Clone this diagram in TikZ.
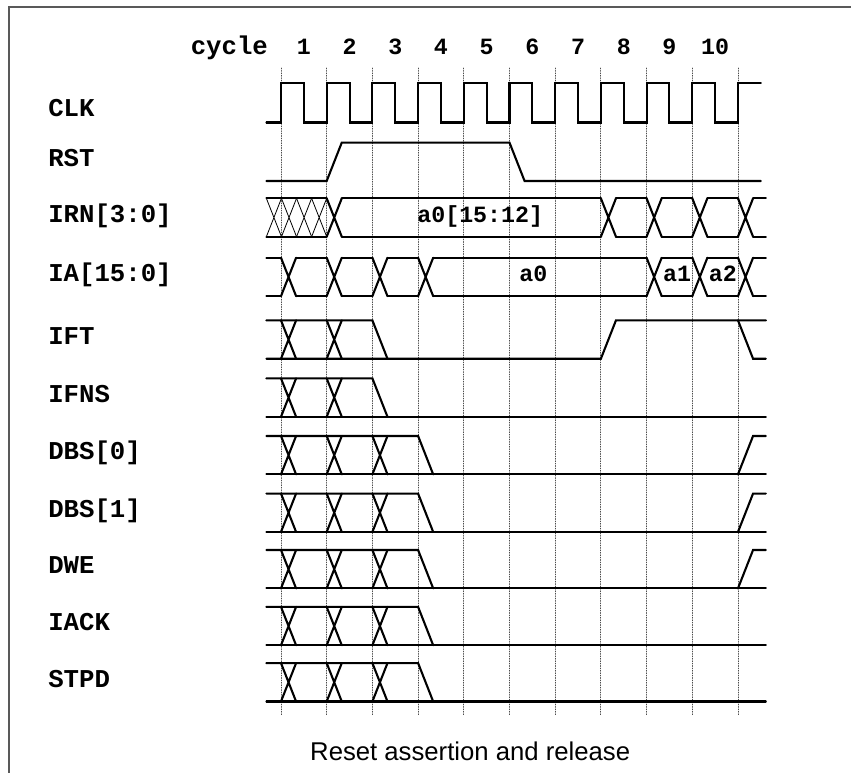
\documentclass[tikz,border=0pt]{standalone}
\usepackage{fontspec}
\setmainfont{Liberation Sans}
\newfontfamily\monofett{Liberation Mono}
\usetikzlibrary{positioning}

\begin{document}
\begin{tikzpicture}[x=1cm, y=1cm, line cap=round,
			sig/.style={line width=1.3pt},   %Signalverlauf
			gitter/.style={black!70, line width=0.5pt, dash pattern=on 0.5pt off 1pt},
			schraff/.style={line width=0.5pt},
			signame/.style={anchor=west, inner sep=0pt, text height=0.6em, text depth=0pt,
				font=\monofett\bfseries\fontsize{16}{19}\selectfont},
			wert/.style={inner sep=0pt, text height=0.6em, text depth=0pt,
				font=\monofett\bfseries\fontsize{14.5}{17}\selectfont}]
			%Bildbereich und Rahmen
			\useasboundingbox (-6.149,-16.915) rectangle (12.473,0);
			\draw[black!65, line width=1pt] (-5.95,-16.915) -- (-5.95,-0.147) -- (12.473,-0.147);
			%Taktraster
			\foreach \k in {0,...,10} \draw[gitter] (\k,-1.49) -- (\k,-15.65);
			%Zyklen beschriften
			\foreach \i in {1,...,10} \node[wert] (nr\i) at (\i-0.5,-1.09) {\i};
			\node[signame, left=0.62cm of nr1] (zyklus) {cycle};
			%Signalnamen
			\node[signame] (clk) at (-5.1,-2.44) {CLK};
			\node[signame] (rst) at (-5.1,-3.54) {RST};
			\node[signame] (irn) at (-5.1,-4.76) {IRN[3:0]};
			\node[signame] (ia) at (-5.1,-6.06) {IA[15:0]};
			\node[signame] (ift) at (-5.1,-7.43) {IFT};
			\node[signame] (ifns) at (-5.1,-8.70) {IFNS};
			\node[signame] (dbsa) at (-5.1,-9.96) {DBS[0]};
			\node[signame] (dbsb) at (-5.1,-11.22) {DBS[1]};
			\node[signame] (dwe) at (-5.1,-12.455) {DWE};
			\node[signame] (iack) at (-5.1,-13.70) {IACK};
			\node[signame] (stpd) at (-5.1,-14.93) {STPD};
			%CLK
			\begin{scope}[yshift=-1.82cm]
				\draw[sig] (-0.32,-0.86) foreach \k in {0,...,9} { -- (\k,-0.86) -- (\k,0) -- (\k+0.5,0) -- (\k+0.5,-0.86) } -- (10,-0.86) -- (10,0) -- (10.5,0);
			\end{scope}
			%RST
			\begin{scope}[yshift=-3.12cm]
				\draw[sig] (-0.32,-0.84) -- (1,-0.84) -- (1.33,0) -- (5,0) -- (5.33,-0.84) -- (10.5,-0.84);
			\end{scope}
			%IRN[3:0]
			\begin{scope}[yshift=-4.34cm]
				\draw[sig] (-0.32,0) -- (1,0) (-0.32,-0.84) -- (1,-0.84);
				\foreach \s in {-0.32,0.01,0.34,0.67} \draw[schraff] (\s,0) -- (\s+0.33,-0.84) (\s,-0.84) -- (\s+0.33,0);
				\foreach \a/\e in {1.33/7,7.33/8,8.33/9,9.33/10,10.33/10.61} \draw[sig] (\a,0) -- (\e,0) (\a,-0.84) -- (\e,-0.84);
				\foreach \k in {1,7,8,9,10} \draw[sig] (\k,0) -- (\k+0.33,-0.84) (\k,-0.84) -- (\k+0.33,0);
				\node[wert] (adr) at (4.36,-0.42) {a0[15:12]};
			\end{scope}
			%IA[15:0]
			\begin{scope}[yshift=-5.64cm]
				\foreach \a/\e in {-0.32/0,0.33/1,1.33/2,2.33/3,3.33/8,8.33/9,9.33/10,10.33/10.61} \draw[sig] (\a,0) -- (\e,0) (\a,-0.84) -- (\e,-0.84);
				\foreach \k in {0,1,2,3,8,9,10} \draw[sig] (\k,0) -- (\k+0.33,-0.84) (\k,-0.84) -- (\k+0.33,0);
				\node[wert] (wa) at (5.52,-0.42) {a0};
				\node[wert] (wb) at (8.67,-0.42) {a1};
				\node[wert] (wc) at (9.67,-0.42) {a2};
			\end{scope}
			%IFT
			\begin{scope}[yshift=-7.01cm]
				\draw[sig] (-0.32,0) -- (2,0) -- (2.33,-0.84);
				\draw[sig] (-0.32,-0.84) -- (7,-0.84) -- (7.33,0) -- (10.61,0);
				\draw[sig] (10,0) -- (10.33,-0.84) -- (10.61,-0.84);
				\foreach \k in {0,1} \draw[sig] (\k,0) -- (\k+0.33,-0.84) (\k,-0.84) -- (\k+0.33,0);
			\end{scope}
			%IFNS
			\begin{scope}[yshift=-8.28cm]
				\draw[sig] (-0.32,0) -- (2,0) -- (2.33,-0.84);
				\draw[sig] (-0.32,-0.84) -- (10.61,-0.84);
				\foreach \k in {0,1} \draw[sig] (\k,0) -- (\k+0.33,-0.84) (\k,-0.84) -- (\k+0.33,0);
			\end{scope}
			%DBS[0], DBS[1], DWE, IACK, STPD
			\foreach \y in {-9.54,-10.80,-12.035,-13.28,-14.51} {
				\begin{scope}[yshift=\y*1cm]
					\draw[sig] (-0.32,0) -- (3,0) -- (3.33,-0.84);
					\draw[sig] (-0.32,-0.84) -- (10.61,-0.84);
					\foreach \k in {0,1,2} \draw[sig] (\k,0) -- (\k+0.33,-0.84) (\k,-0.84) -- (\k+0.33,0);
				\end{scope}
			}
			\foreach \y in {-9.54,-10.80,-12.035} \draw[sig] (10,\y-0.84) -- (10.33,\y) -- (10.61,\y);
			%Bildunterschrift
			\node[font=\fontsize{16}{19}\selectfont] (titel) at (4.14,-16.43) {Reset assertion and release};
		\end{tikzpicture}
\end{document}
